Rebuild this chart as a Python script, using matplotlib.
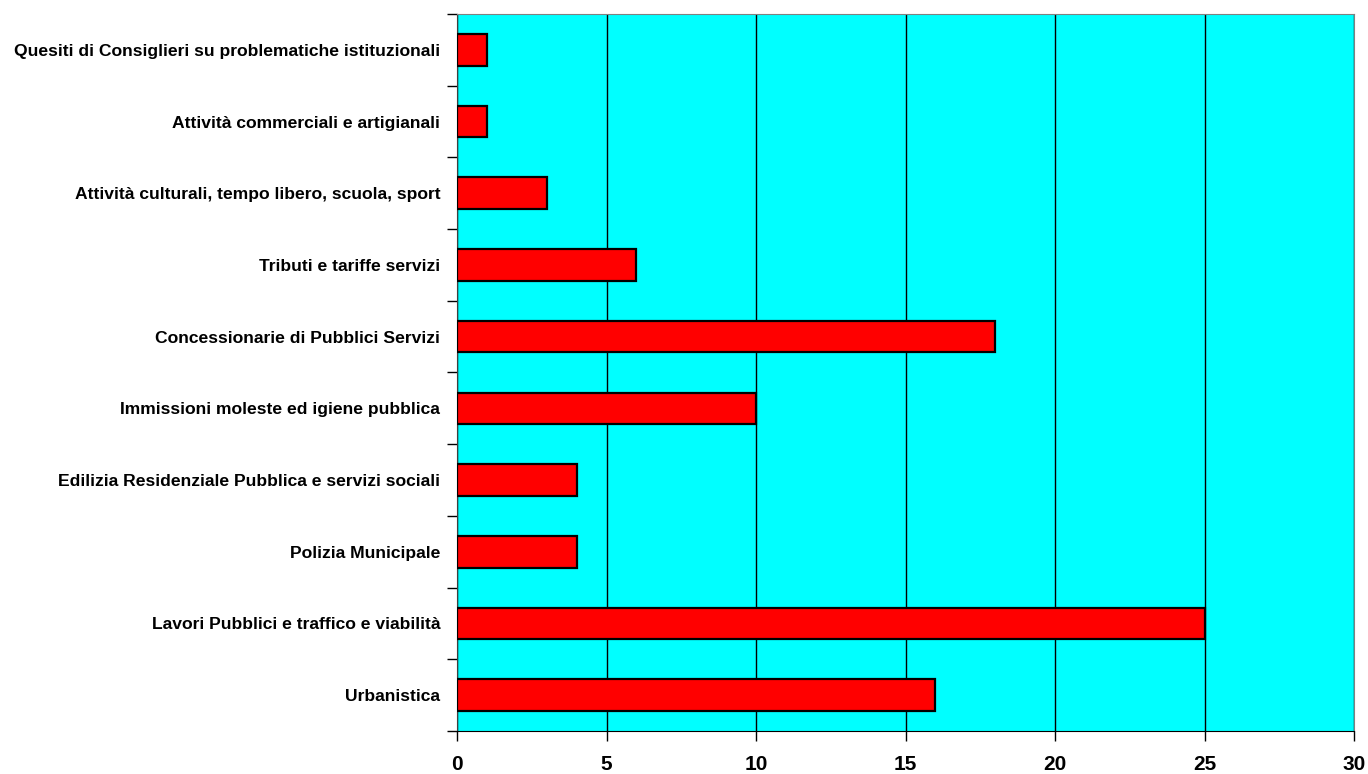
import matplotlib
matplotlib.use("Agg")
import matplotlib.pyplot as plt
import numpy as np

categories = [
    "Quesiti di Consiglieri su problematiche istituzionali",
    "Attività commerciali e artigianali",
    "Attività culturali, tempo libero, scuola, sport",
    "Tributi e tariffe servizi",
    "Concessionarie di Pubblici Servizi",
    "Immissioni moleste ed igiene pubblica",
    "Edilizia Residenziale Pubblica e servizi sociali",
    "Polizia Municipale",
    "Lavori Pubblici e traffico e viabilità",
    "Urbanistica",
]
values = [1, 1, 3, 6, 18, 10, 4, 4, 25, 16]
x_ticks = [0, 5, 10, 15, 20, 25, 30]

plt.rcParams['font.family'] = ['Liberation Sans', 'DejaVu Sans']

fig = plt.figure(figsize=(13.68, 7.74), dpi=100)
ax = fig.add_axes([457/1368, 1 - 731/774, (1354-457)/1368, (731-14)/774])
ax.set_facecolor('#00FFFF')

n = len(categories)
ypos = np.arange(n)[::-1]
ax.barh(ypos, values, height=0.44, color='#FF0000', edgecolor='black', linewidth=1.6, zorder=3)

ax.set_xlim(0, 30)
ax.set_ylim(-0.5, n - 0.5)
ax.set_xticks(x_ticks)
ax.set_xticklabels([str(t) for t in x_ticks], fontsize=15, fontweight='bold')
ax.set_yticks(ypos)
ax.set_yticklabels(categories, fontsize=12.6, fontweight='bold')
ax.tick_params(axis='y', which='major', length=0, pad=12)
ax.set_yticks(np.arange(-0.5, n, 1.0), minor=True)
ax.tick_params(axis='y', which='minor', length=7, width=1, direction='out')
ax.tick_params(axis='x', which='major', length=7, width=1, direction='out', pad=10)
ax.xaxis.grid(True, color='black', linewidth=1, zorder=1)
ax.set_axisbelow(True)
for s in ['top', 'right']:
    ax.spines[s].set_color('#808080')
ax.spines['left'].set_color('#404040')
ax.spines['bottom'].set_color('black')

fig.savefig('out.png', dpi=100)
